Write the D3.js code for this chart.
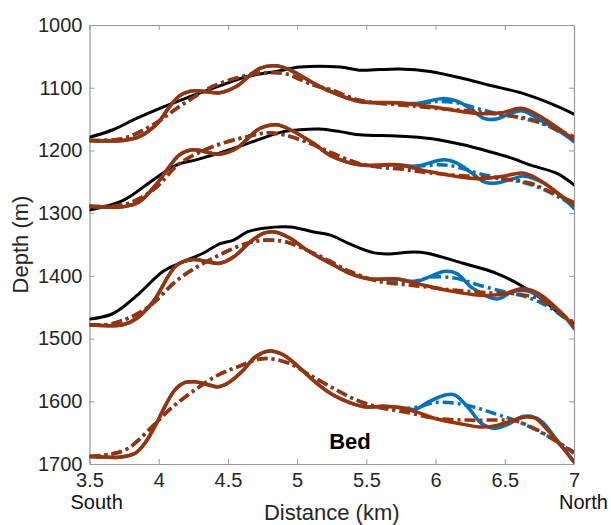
<!DOCTYPE html>
<html>
<head>
<meta charset="utf-8">
<script src="https://cdn.jsdelivr.net/npm/d3@7"></script>
<style>
  html, body { margin: 0; padding: 0; background: #fff; }
  svg { display: block; font-family: "Liberation Sans", Arial, Helvetica, sans-serif; }
</style>
</head>
<body>
<svg id="chart" width="611" height="525"></svg>
<script>
// ---------- Data (distance km, depth m) ----------
const xTicks = [3.5, 4, 4.5, 5, 5.5, 6, 6.5, 7];
const xTickLabels = ["3.5", "4", "4.5", "5", "5.5", "6", "6.5", "7"];
const yTicks = [1000, 1100, 1200, 1300, 1400, 1500, 1600, 1700];
const endLabels = ["South", "North"];

// Layer 1
const l1Black = [[3.5,1179],[3.67,1167],[3.84,1149],[4.03,1131],[4.23,1114],[4.44,1097],[4.64,1082],[4.85,1074],[5.02,1067],[5.31,1067],[5.45,1072],[5.74,1070],[5.96,1074],[6.25,1088],[6.39,1096],[6.63,1109],[6.83,1125],[7.0,1142]];
const l1Brown = [[3.5,1184],[3.74,1184],[3.86,1178],[3.99,1157],[4.07,1133],[4.15,1113],[4.25,1105],[4.44,1108],[4.56,1098],[4.73,1069],[4.85,1065],[4.95,1072],[5.12,1093],[5.24,1106],[5.45,1122],[5.72,1124],[5.96,1130],[6.3,1141],[6.47,1140],[6.63,1133],[6.78,1149],[6.92,1170],[7.0,1183]];
const l1BrownFit = [[3.5,1184],[3.74,1181],[3.96,1159],[4.15,1130],[4.39,1098],[4.64,1080],[4.78,1076],[4.92,1078],[5.12,1096],[5.24,1103],[5.45,1120],[5.72,1127],[5.96,1132],[6.3,1138],[6.51,1144],[6.68,1150],[6.83,1162],[7.0,1178]];
const l1Blue = [[3.5,1184],[3.74,1184],[3.86,1178],[3.99,1157],[4.07,1133],[4.15,1113],[4.25,1105],[4.44,1108],[4.56,1098],[4.73,1069],[4.85,1065],[4.95,1072],[5.12,1093],[5.24,1106],[5.45,1122],[5.72,1124],[5.86,1125],[6.06,1117],[6.15,1121],[6.25,1133],[6.35,1149],[6.44,1150],[6.54,1141],[6.63,1137],[6.75,1151],[6.92,1173],[7.0,1186]];
const l1BlueFit = [[3.5,1184],[3.74,1181],[3.96,1159],[4.15,1130],[4.39,1098],[4.64,1080],[4.78,1076],[4.92,1078],[5.12,1096],[5.24,1103],[5.45,1120],[5.72,1127],[5.84,1126],[6.01,1122],[6.15,1124],[6.3,1133],[6.44,1141],[6.63,1149],[6.78,1158],[6.92,1173],[7.0,1181]];

// Layer 2
const l2Black = [[3.5,1295],[3.74,1280],[3.96,1247],[4.13,1223],[4.27,1215],[4.47,1202],[4.68,1186],[4.9,1170],[5.02,1167],[5.16,1166],[5.31,1170],[5.45,1175],[5.72,1177],[5.96,1181],[6.2,1191],[6.39,1202],[6.56,1213],[6.68,1223],[6.88,1237],[7.0,1255]];
const l2Brown = [[3.5,1289],[3.74,1290],[3.86,1282],[3.99,1252],[4.15,1207],[4.25,1199],[4.44,1206],[4.56,1197],[4.73,1165],[4.85,1159],[4.95,1167],[5.12,1189],[5.24,1208],[5.45,1223],[5.72,1223],[5.96,1234],[6.3,1245],[6.49,1241],[6.63,1236],[6.75,1247],[6.92,1274],[7.0,1287]];
const l2BrownFit = [[3.5,1289],[3.74,1287],[3.96,1263],[4.15,1221],[4.39,1194],[4.64,1178],[4.78,1172],[4.92,1176],[5.12,1191],[5.24,1203],[5.45,1221],[5.72,1229],[5.96,1236],[6.3,1242],[6.51,1246],[6.68,1252],[6.83,1266],[7.0,1283]];
const l2Blue = [[3.5,1289],[3.74,1290],[3.86,1282],[3.99,1252],[4.15,1207],[4.25,1199],[4.44,1206],[4.56,1197],[4.73,1165],[4.85,1159],[4.95,1167],[5.12,1189],[5.24,1208],[5.45,1223],[5.72,1223],[5.86,1225],[6.06,1215],[6.15,1220],[6.25,1234],[6.35,1250],[6.44,1252],[6.56,1245],[6.64,1241],[6.78,1252],[6.92,1276],[7.0,1292]];
const l2BlueFit = [[3.5,1289],[3.74,1287],[3.96,1263],[4.15,1221],[4.39,1194],[4.64,1178],[4.78,1172],[4.92,1176],[5.12,1191],[5.24,1203],[5.45,1221],[5.72,1229],[5.84,1226],[6.03,1223],[6.15,1226],[6.3,1236],[6.49,1245],[6.63,1251],[6.78,1262],[6.92,1278],[7.0,1287]];

// Layer 3
const l3Black = [[3.5,1469],[3.65,1462],[3.74,1450],[3.86,1428],[4.03,1393],[4.15,1380],[4.32,1364],[4.44,1349],[4.54,1343],[4.64,1330],[4.76,1324],[4.95,1322],[5.12,1330],[5.24,1335],[5.38,1349],[5.55,1363],[5.65,1365],[5.84,1362],[5.94,1364],[6.2,1380],[6.44,1396],[6.63,1417],[6.78,1439],[6.92,1465],[7.0,1476]];
const l3Brown = [[3.5,1478],[3.74,1478],[3.84,1468],[3.96,1441],[4.13,1383],[4.25,1374],[4.44,1380],[4.54,1370],[4.66,1346],[4.76,1332],[4.84,1330],[4.95,1340],[5.07,1359],[5.24,1380],[5.38,1396],[5.53,1405],[5.72,1405],[5.86,1412],[6.08,1423],[6.32,1431],[6.49,1429],[6.63,1420],[6.75,1429],[6.9,1457],[7.0,1481]];
const l3BrownFit = [[3.5,1478],[3.67,1476],[3.91,1452],[4.15,1404],[4.39,1372],[4.64,1348],[4.78,1343],[4.92,1346],[5.12,1364],[5.24,1377],[5.38,1393],[5.6,1409],[5.86,1416],[6.15,1423],[6.39,1427],[6.58,1429],[6.75,1437],[6.9,1460],[7.0,1474]];
const l3Blue = [[3.5,1478],[3.74,1478],[3.84,1468],[3.96,1441],[4.13,1383],[4.25,1374],[4.44,1380],[4.54,1370],[4.66,1346],[4.76,1332],[4.84,1330],[4.95,1340],[5.07,1359],[5.24,1380],[5.38,1396],[5.53,1405],[5.72,1405],[5.86,1409],[6.06,1393],[6.15,1396],[6.27,1420],[6.44,1437],[6.56,1425],[6.66,1424],[6.78,1437],[6.92,1462],[7.0,1484]];
const l3BlueFit = [[3.5,1478],[3.67,1476],[3.91,1452],[4.15,1404],[4.39,1372],[4.64,1348],[4.78,1343],[4.92,1346],[5.12,1364],[5.24,1377],[5.38,1393],[5.6,1409],[5.84,1409],[5.96,1402],[6.15,1404],[6.3,1414],[6.49,1425],[6.63,1432],[6.78,1445],[6.92,1465],[7.0,1479]];

// Bed
const bedBrown = [[3.5,1688],[3.61,1689],[3.73,1689],[3.83,1683],[3.9,1667],[3.97,1641],[4.05,1606],[4.12,1581],[4.19,1570],[4.26,1569],[4.33,1572],[4.43,1577],[4.5,1571],[4.6,1553],[4.7,1529],[4.8,1520],[4.9,1526],[5.02,1547],[5.14,1571],[5.26,1590],[5.38,1602],[5.5,1609],[5.62,1608],[5.74,1610],[5.86,1617],[5.99,1627],[6.16,1635],[6.33,1641],[6.45,1638],[6.55,1631],[6.65,1625],[6.72,1627],[6.81,1646],[6.91,1672],[7.0,1696]];
const bedBrownFit = [[3.5,1688],[3.66,1684],[3.78,1675],[3.95,1641],[4.09,1611],[4.26,1582],[4.43,1558],[4.57,1545],[4.72,1533],[4.8,1532],[4.95,1540],[5.09,1558],[5.26,1579],[5.43,1598],[5.62,1611],[5.82,1619],[5.99,1627],[6.22,1630],[6.45,1630],[6.57,1631],[6.72,1644],[6.86,1662],[7.0,1681]];
const bedBlue = [[3.5,1688],[3.61,1689],[3.73,1689],[3.83,1683],[3.9,1667],[3.97,1641],[4.05,1606],[4.12,1581],[4.19,1570],[4.26,1569],[4.33,1572],[4.43,1577],[4.5,1571],[4.6,1553],[4.7,1529],[4.8,1520],[4.9,1526],[5.02,1547],[5.14,1571],[5.26,1590],[5.38,1602],[5.5,1609],[5.62,1608],[5.74,1610],[5.85,1613],[5.95,1601],[6.07,1590],[6.14,1590],[6.24,1611],[6.33,1635],[6.43,1643],[6.53,1636],[6.62,1625],[6.69,1624],[6.77,1633],[6.86,1657],[7.0,1697]];
const bedBlueFit = [[3.5,1688],[3.66,1684],[3.78,1675],[3.95,1641],[4.09,1611],[4.26,1582],[4.43,1558],[4.57,1545],[4.72,1533],[4.8,1532],[4.95,1540],[5.09,1558],[5.26,1579],[5.43,1598],[5.62,1611],[5.85,1610],[5.99,1602],[6.14,1603],[6.29,1610],[6.43,1620],[6.57,1630],[6.72,1645],[6.86,1662],[7.0,1683]];

// ---------- Layout ----------
const M = { left: 89.5, right: 574, top: 25, bottom: 464 };
const colBrown = "#9c3306", colBlue = "#0072bd", colBlack = "#000000";
const dashFit = "11,4,3,4";

const svg = d3.select("#chart");
const x = d3.scaleLinear().domain([3.5, 7]).range([M.left, M.right]);
const y = d3.scaleLinear().domain([1000, 1700]).range([M.top, M.bottom]);

svg.append("defs").append("clipPath").attr("id", "clip")
  .append("rect").attr("x", M.left).attr("y", M.top - 2)
  .attr("width", M.right - M.left).attr("height", M.bottom - M.top + 4);

// axes box + ticks
const axisCol = "#9a9a9a";
const gx = svg.append("g").attr("transform", `translate(0,${M.bottom})`)
  .call(d3.axisBottom(x).tickValues(xTicks).tickFormat((d, i) => xTickLabels[i]).tickSizeInner(-5).tickSizeOuter(0).tickPadding(10));
const gxTop = svg.append("g").attr("transform", `translate(0,${M.top})`)
  .call(d3.axisTop(x).tickValues(xTicks).tickFormat("").tickSizeInner(-5).tickSizeOuter(0));
const gy = svg.append("g").attr("transform", `translate(${M.left},0)`)
  .call(d3.axisLeft(y).tickValues(yTicks).tickFormat(d3.format("d")).tickSizeInner(-5).tickSizeOuter(0).tickPadding(7));
const gyR = svg.append("g").attr("transform", `translate(${M.right},0)`)
  .call(d3.axisRight(y).tickValues(yTicks).tickFormat("").tickSizeInner(-5).tickSizeOuter(0));
[gx, gxTop, gy, gyR].forEach(g => {
  g.select(".domain").attr("stroke", axisCol).attr("stroke-width", 1.2);
  g.selectAll(".tick line").attr("stroke", axisCol).attr("stroke-width", 1);
  g.selectAll(".tick text").attr("fill", "#262626").attr("font-size", 20)
    .attr("font-family", "'Liberation Sans', Arial, sans-serif");
});
gx.selectAll(".tick text").attr("dy", null).attr("y", 23);
// South / North labels beneath the end ticks
svg.append("text").attr("x", x(3.5) - 19).attr("y", 509).attr("font-size", 20).attr("fill", "#111").text(endLabels[0]);
svg.append("text").attr("x", x(7) - 15).attr("y", 509).attr("font-size", 20).attr("fill", "#111").text(endLabels[1]);

// axis titles
svg.append("text").attr("x", (M.left + M.right) / 2).attr("y", 520)
  .attr("text-anchor", "middle").attr("font-size", 22).attr("fill", "#262626").text("Distance (km)");
svg.append("text").attr("transform", `translate(28,${(M.top + M.bottom) / 2}) rotate(-90)`)
  .attr("text-anchor", "middle").attr("font-size", 22).attr("fill", "#262626").text("Depth (m)");

// lines
const plot = svg.append("g").attr("clip-path", "url(#clip)");
const lineGen = d3.line().x(d => x(d[0])).y(d => y(d[1])).curve(d3.curveCatmullRom.alpha(0.5));

function draw(data, color, width, dashed) {
  plot.append("path").datum(data)
    .attr("fill", "none").attr("stroke", color).attr("stroke-width", width)
    .attr("stroke-linejoin", "round").attr("stroke-linecap", dashed ? "butt" : "round")
    .attr("stroke-dasharray", dashed ? dashFit : null)
    .attr("d", lineGen);
}

const layers = [
  { black: l1Black, blue: l1Blue, blueFit: l1BlueFit, brown: l1Brown, brownFit: l1BrownFit },
  { black: l2Black, blue: l2Blue, blueFit: l2BlueFit, brown: l2Brown, brownFit: l2BrownFit },
  { black: l3Black, blue: l3Blue, blueFit: l3BlueFit, brown: l3Brown, brownFit: l3BrownFit },
  { black: null, blue: bedBlue, blueFit: bedBlueFit, brown: bedBrown, brownFit: bedBrownFit }
];
layers.forEach(L => {
  if (L.black) draw(L.black, colBlack, 3, false);
  draw(L.blue, colBlue, 3.5, false);
  draw(L.blueFit, colBlue, 3.5, true);
  draw(L.brown, colBrown, 3.5, false);
  draw(L.brownFit, colBrown, 3.5, true);
});

// Bed label
svg.append("text").attr("x", 350).attr("y", 449).attr("text-anchor", "middle")
  .attr("font-size", 22).attr("font-weight", "bold").attr("fill", "#000").text("Bed");
</script>
</body>
</html>
